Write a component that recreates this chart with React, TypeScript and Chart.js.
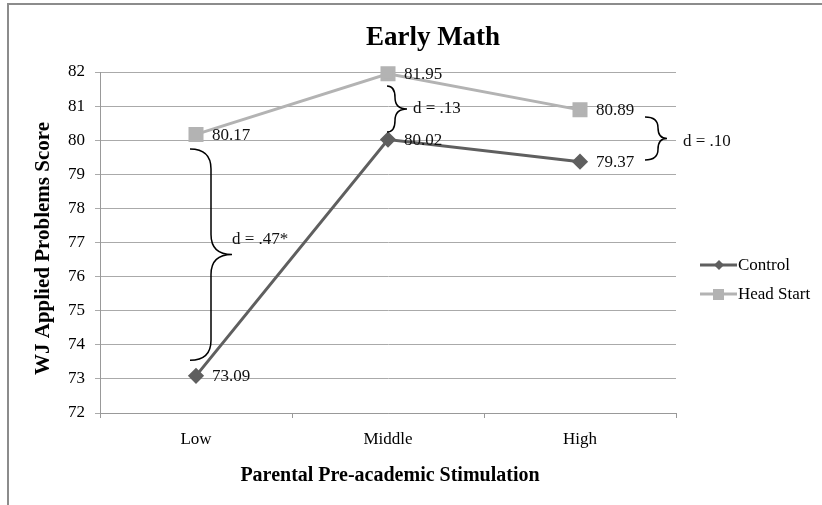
import React, { useEffect, useRef } from "react";
import { Chart, registerables } from "chart.js";

Chart.register(...registerables);

const categories = ["Low", "Middle", "High"];
const controlValues = [73.09, 80.02, 79.37];
const headStartValues = [80.17, 81.95, 80.89];
const yTicksMin = 72;
const yTicksMax = 82;

const chartTitle = "Early Math";
const xAxisTitle = "Parental Pre-academic Stimulation";
const yAxisTitle = "WJ Applied Problems Score";

// effect-size braces: category index, top value, bottom value, label
const braceCategory = [0, 1, 2];
const braceTop = [79.74, 81.59, 80.68];
const braceBottom = [73.55, 80.24, 79.42];
const braceLabels = ["d = .47*", "d = .13", "d = .10"];
// pixel styling of braces relative to the category position: [end, spine, tip]
const braceShape = [
  [-6, 15, 36],
  [-1, 7, 19],
  [65, 78, 87],
];
const braceLabelDx = [0, 6, 16];
const braceLabelDy = [-15, 0, 3];

const SERIF = "'Liberation Serif', 'Times New Roman', serif";
const CONTROL_COLOR = "#5f5f5f";
const HEAD_COLOR = "#b3b3b3";
const TEXT_SIZE = 17;

const overlayPlugin = {
  id: "overlay",
  beforeDraw(chart: any) {
    const ctx = chart.ctx;
    ctx.save();
    ctx.fillStyle = "#ffffff";
    ctx.fillRect(0, 0, chart.width, chart.height);
    ctx.strokeStyle = "#8c8c8c";
    ctx.lineWidth = 2;
    ctx.strokeRect(8, 4, chart.width + 20, chart.height + 20);
    ctx.restore();
  },
  afterDraw(chart: any) {
    const ctx = chart.ctx;
    const xs = chart.scales.x;
    const ys = chart.scales.y;
    const area = chart.chartArea;
    ctx.save();

    // Title
    ctx.fillStyle = "#000";
    ctx.font = `bold 27px ${SERIF}`;
    ctx.textAlign = "center";
    ctx.textBaseline = "middle";
    ctx.fillText(chartTitle, 433, 38);

    // X axis title
    ctx.font = `bold 20px ${SERIF}`;
    ctx.fillText(xAxisTitle, (area.left + area.right) / 2 + 2, 476);

    // Y axis title
    ctx.save();
    ctx.translate(44, (area.top + area.bottom) / 2 + 6);
    ctx.rotate(-Math.PI / 2);
    ctx.font = `bold 21px ${SERIF}`;
    ctx.fillText(yAxisTitle, 0, 0);
    ctx.restore();

    // data labels
    ctx.font = `${TEXT_SIZE}px ${SERIF}`;
    ctx.textAlign = "left";
    ctx.textBaseline = "middle";
    ctx.fillStyle = "#111";
    chart.data.datasets.forEach((ds: any, di: number) => {
      const meta = chart.getDatasetMeta(di);
      meta.data.forEach((pt: any, i: number) => {
        ctx.fillText(ds.data[i].toFixed(2), pt.x + 16, pt.y + 1);
      });
    });

    // braces
    ctx.strokeStyle = "#000";
    ctx.lineWidth = 1.5;
    braceCategory.forEach((ci, k) => {
      const cx = xs.getPixelForValue(ci);
      const [e, s, t] = braceShape[k];
      const x0 = cx + e;
      const xsP = cx + s;
      const xt = cx + t;
      const yT = ys.getPixelForValue(braceTop[k]);
      const yB = ys.getPixelForValue(braceBottom[k]);
      const ym = (yT + yB) / 2;
      const r = Math.min(20, (yB - yT) / 4);
      ctx.beginPath();
      ctx.moveTo(x0, yT);
      ctx.quadraticCurveTo(xsP, yT, xsP, yT + r);
      ctx.lineTo(xsP, ym - r);
      ctx.quadraticCurveTo(xsP, ym, xt, ym);
      ctx.quadraticCurveTo(xsP, ym, xsP, ym + r);
      ctx.lineTo(xsP, yB - r);
      ctx.quadraticCurveTo(xsP, yB, x0, yB);
      ctx.stroke();
      ctx.fillStyle = "#111";
      ctx.font = `${TEXT_SIZE}px ${SERIF}`;
      ctx.fillText(braceLabels[k], xt + braceLabelDx[k], ym + braceLabelDy[k]);
    });

    // legend
    const legendItems = [
      { label: "Control", color: CONTROL_COLOR, style: "diamond" },
      { label: "Head Start", color: HEAD_COLOR, style: "square" },
    ];
    legendItems.forEach((it, i) => {
      const y = 265 + i * 29;
      ctx.strokeStyle = it.color;
      ctx.lineWidth = 3;
      ctx.beginPath();
      ctx.moveTo(700, y);
      ctx.lineTo(737, y);
      ctx.stroke();
      ctx.fillStyle = it.color;
      if (it.style === "diamond") {
        ctx.beginPath();
        ctx.moveTo(719, y - 5);
        ctx.lineTo(724, y);
        ctx.lineTo(719, y + 5);
        ctx.lineTo(714, y);
        ctx.closePath();
        ctx.fill();
      } else {
        ctx.fillRect(713, y - 5, 11, 11);
      }
      ctx.fillStyle = "#000";
      ctx.font = `${TEXT_SIZE}px ${SERIF}`;
      ctx.textAlign = "left";
      ctx.fillText(it.label, 738, y + 1);
    });

    ctx.restore();
  },
};

export default function App() {
  const ref = useRef<HTMLCanvasElement | null>(null);
  useEffect(() => {
    if (!ref.current) return;
    const chart = new Chart(ref.current, {
      type: "line",
      data: {
        labels: categories,
        datasets: [
          {
            label: "Control",
            data: controlValues,
            borderColor: CONTROL_COLOR,
            backgroundColor: CONTROL_COLOR,
            borderWidth: 3,
            pointStyle: "rectRot",
            pointRadius: 6,
            pointHoverRadius: 6,
            tension: 0,
            clip: false,
          },
          {
            label: "Head Start",
            data: headStartValues,
            borderColor: HEAD_COLOR,
            backgroundColor: HEAD_COLOR,
            borderWidth: 3,
            pointStyle: "rect",
            pointRadius: 8.5,
            pointHoverRadius: 8.5,
            tension: 0,
            clip: false,
          },
        ],
      },
      options: {
        responsive: false,
        animation: false,
        events: [],
        layout: { padding: { left: 60, right: 146, top: 72, bottom: 52 } },
        plugins: {
          legend: { display: false },
          title: { display: false },
          tooltip: { enabled: false },
        },
        scales: {
          x: {
            type: "category",
            offset: true,
            grid: {
              display: true,
              drawOnChartArea: false,
              drawTicks: true,
              tickLength: 5,
              color: "#999",
              offset: true,
            },
            border: { color: "#999", width: 1 },
            ticks: {
              font: { family: SERIF, size: TEXT_SIZE },
              color: "#000",
              padding: 11,
            },
            afterFit: (s: any) => {
              s.height = 40;
            },
          },
          y: {
            min: yTicksMin,
            max: yTicksMax,
            ticks: {
              stepSize: 1,
              font: { family: SERIF, size: TEXT_SIZE },
              color: "#000",
              padding: 10,
            },
            grid: { color: "#aaaaaa", tickLength: 5 },
            border: { color: "#999", width: 1 },
            afterFit: (s: any) => {
              s.width = 40;
            },
          },
        },
      },
      plugins: [overlayPlugin],
    });
    return () => chart.destroy();
  }, []);
  return (
    <div style={{ position: "fixed", left: 0, top: 0, width: 822, height: 505 }}>
      <canvas ref={ref} width={822} height={505} />
    </div>
  );
}
